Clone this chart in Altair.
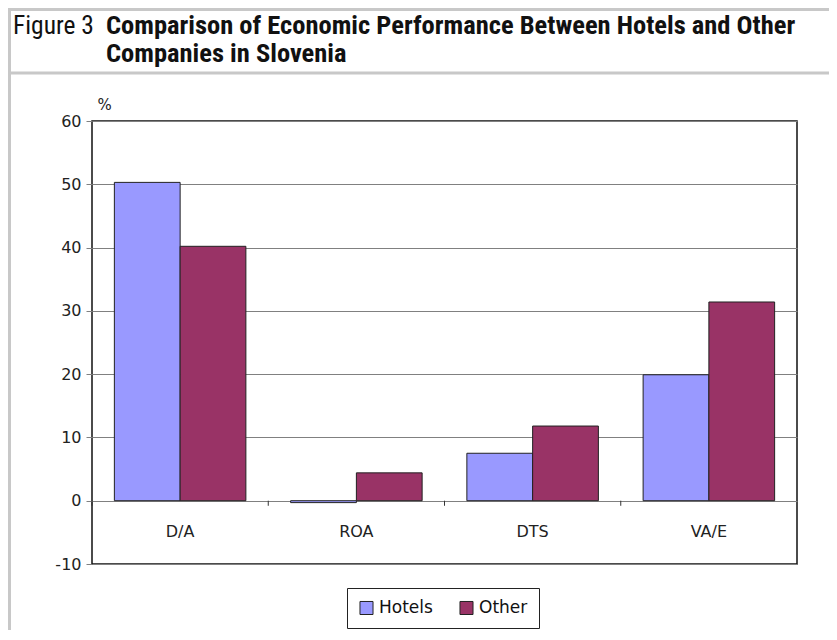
import altair as alt
import pandas as pd

categories = ["D/A", "ROA", "DTS", "VA/E"]
series = ["Hotels", "Other"]
hotels = [50.3, -0.3, 7.5, 19.9]
other = [40.2, 4.4, 11.8, 31.4]
colors = ["#9999FF", "#993366"]
y_ticks = [-10, 0, 10, 20, 30, 40, 50, 60]
title_lines = ["Comparison of Economic Performance Between Hotels and Other",
               "Companies in Slovenia"]

rows = []
for c, h, o in zip(categories, hotels, other):
    rows.append({"cat": c, "series": "Hotels", "value": h})
    rows.append({"cat": c, "series": "Other", "value": o})
df = pd.DataFrame(rows)
cat_df = pd.DataFrame({"cat": categories})
one = pd.DataFrame({"a": [0]})

FONT = "DejaVu Sans"
TFONT = "Liberation Sans Narrow, Arial Narrow, Roboto Condensed, Roboto, sans-serif"

x_enc = alt.X("cat:N", sort=categories, axis=None,
              scale=alt.Scale(paddingInner=0, paddingOuter=0))

bars = alt.Chart(df).mark_bar(stroke="#222222", strokeWidth=1).encode(
    x=x_enc,
    xOffset=alt.XOffset("series:N", sort=series,
                        scale=alt.Scale(paddingInner=0, paddingOuter=0.34)),
    y=alt.Y("value:Q",
            scale=alt.Scale(domain=[-10, 60], nice=False, zero=False),
            axis=alt.Axis(values=y_ticks, grid=True, gridColor="#808080", gridWidth=1,
                          domain=False, ticks=True, tickSize=6, tickColor="#808080",
                          labelExpr="'' + datum.value",
                          labelFont=FONT, labelFontSize=16, labelColor="#222222",
                          labelPadding=5,
                          title="%", titleAngle=0, titleFont=FONT, titleFontSize=15,
                          titleFontWeight="normal", titleColor="#222222",
                          titleAlign="left", titleBaseline="alphabetic",
                          titleX=5, titleY=-12)),
    color=alt.Color("series:N", sort=series,
                    scale=alt.Scale(domain=series, range=colors),
                    legend=alt.Legend(title=None, orient="none", legendX=255, legendY=467,
                                      direction="horizontal", strokeColor="#222222",
                                      padding=11, symbolType="square", symbolSize=170,
                                      symbolStrokeColor="#222222", symbolStrokeWidth=1,
                                      labelFont=FONT, labelFontSize=17, labelColor="#111111",
                                      columnPadding=24, labelOffset=4)),
)

ticks = alt.Chart(cat_df).mark_rule(color="#333333", strokeWidth=1).encode(
    x=alt.X("cat:N", sort=categories, bandPosition=0),
    y=alt.datum(0),
    y2=alt.datum(-0.8),
)

xlabels = alt.Chart(cat_df).mark_text(font=FONT, fontSize=16, color="#222222",
                                     baseline="middle", align="center").encode(
    x=alt.X("cat:N", sort=categories),
    y=alt.datum(-5),
    text="cat:N",
)

fig_label = alt.Chart(one).mark_text(font=TFONT, fontSize=25.5, color="#111111",
                                    align="left", baseline="alphabetic").encode(
    x=alt.value(-79), y=alt.value(-87), text=alt.value("Figure 3"))

title1 = alt.Chart(one).mark_text(font=TFONT, fontSize=26.5, fontWeight="bold",
                                 color="#111111", align="left",
                                 baseline="alphabetic").encode(
    x=alt.value(14), y=alt.value(-87), text=alt.value(title_lines[0]))
title2 = alt.Chart(one).mark_text(font=TFONT, fontSize=26.5, fontWeight="bold",
                                 color="#111111", align="left",
                                 baseline="alphabetic").encode(
    x=alt.value(14), y=alt.value(-59), text=alt.value(title_lines[1]))

frame_color = "#c8c8c8"
frame_left = alt.Chart(one).mark_rule(color=frame_color, strokeWidth=3).encode(
    x=alt.value(-82.5), y=alt.value(-113), y2=alt.value(520))
frame_top = alt.Chart(one).mark_rule(color=frame_color, strokeWidth=3).encode(
    x=alt.value(-84), x2=alt.value(745), y=alt.value(-111.5))
frame_sep = alt.Chart(one).mark_rule(color=frame_color, strokeWidth=3).encode(
    x=alt.value(-84), x2=alt.value(745), y=alt.value(-48))

chart = alt.layer(
    bars, ticks, xlabels, fig_label, title1, title2, frame_left, frame_top, frame_sep
).properties(
    width=705, height=443,
    autosize=alt.AutoSizeParams(type="none"),
    padding={"left": 84, "top": 113, "right": 32, "bottom": 66},
    background="white",
).configure_view(stroke="#111111", strokeWidth=1.5)

chart.save("out.html", embed_options={"renderer": "svg", "actions": False})
